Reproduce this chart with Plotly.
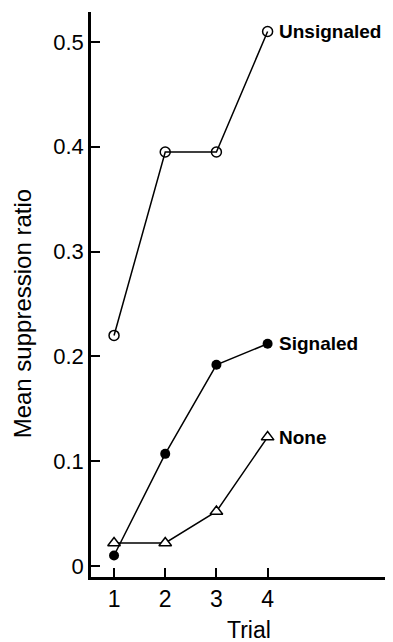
import plotly.graph_objects as go

trials = [1, 2, 3, 4]
unsignaled = [0.22, 0.395, 0.395, 0.51]
signaled = [0.01, 0.107, 0.192, 0.212]
none = [0.022, 0.022, 0.052, 0.123]
series_names = ["Unsignaled", "Signaled", "None"]
y_ticks = [0, 0.1, 0.2, 0.3, 0.4, 0.5]
y_tick_text = ["0", "0.1", "0.2", "0.3", "0.4", "0.5"]

FONT = "Liberation Sans, Arial, Helvetica, sans-serif"
line = dict(color="black", width=1.5)

fig = go.Figure()
fig.add_trace(go.Scatter(x=trials, y=unsignaled, mode="lines+markers", line=line,
                         marker=dict(symbol="circle-open", size=10, color="black", line=dict(width=1.5)),
                         name=series_names[0]))
fig.add_trace(go.Scatter(x=trials, y=none, mode="lines+markers", line=line,
                         marker=dict(symbol="triangle-up", size=11, color="white", line=dict(width=1.5, color="black")),
                         name=series_names[2]))
fig.add_trace(go.Scatter(x=trials, y=signaled, mode="lines+markers", line=line,
                         marker=dict(symbol="circle", size=10, color="black"),
                         name=series_names[1]))

for name, vals in zip(series_names, [unsignaled, signaled, none]):
    fig.add_annotation(x=trials[-1], y=vals[-1], text="<b>%s</b>" % name, showarrow=False,
                       xanchor="left", yanchor="middle", xshift=9, yshift=0,
                       font=dict(family=FONT, size=19, color="black"))

fig.add_annotation(xref="paper", yref="paper", x=-0.229, y=0.465, text="Mean suppression ratio",
                   textangle=-90, showarrow=False, xanchor="center", yanchor="middle",
                   font=dict(family=FONT, size=24, color="black"))
fig.add_annotation(xref="paper", yref="paper", x=0.525, y=-0.094, text="Trial",
                   showarrow=False, xanchor="center", yanchor="middle",
                   font=dict(family=FONT, size=23, color="black"))

# page body has an 8px default margin, so the figure is sized to fit the window
fig.update_layout(
    width=385, height=634,
    margin=dict(l=83, r=1, t=4, b=65),
    paper_bgcolor="white", plot_bgcolor="white",
    showlegend=False,
    font=dict(family=FONT, color="black"),
)
fig.update_xaxes(range=[0.55, 6.43], tickvals=trials, ticktext=[str(t) for t in trials],
                 ticks="inside", ticklen=9, tickwidth=1.5, tickcolor="black", automargin=False,
                 showline=True, linewidth=2.5, linecolor="black", showgrid=False, zeroline=False,
                 tickfont=dict(family=FONT, size=23, color="black"))
fig.update_yaxes(range=[-0.0105, 0.5286], tickvals=y_ticks, ticktext=y_tick_text,
                 ticks="inside", ticklen=9, tickwidth=1.5, tickcolor="black", automargin=False,
                 showline=True, linewidth=2.5, linecolor="black", showgrid=False, zeroline=False,
                 tickfont=dict(family=FONT, size=22, color="black"))

fig.write_html("out.html")
